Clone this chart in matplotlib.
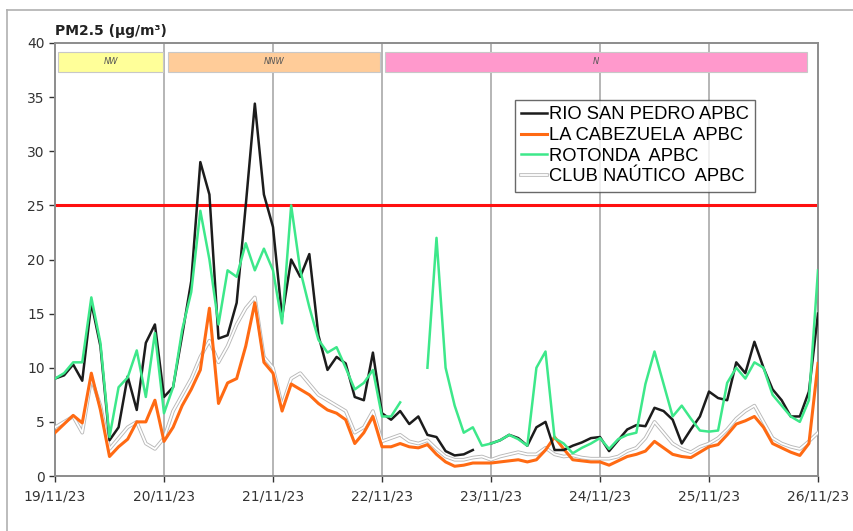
import numpy as np
import matplotlib
matplotlib.use("Agg")
import matplotlib.pyplot as plt
import matplotlib.patheffects as pe
from matplotlib.patches import Rectangle
from matplotlib.lines import Line2D

# ---------------- data (2-hourly, 19/11/23 00h .. 26/11/23 00h) ----------------
hours = np.arange(0, 169, 2)

rio_san_pedro = [
    9.0, 9.3, 10.3, 8.8, 16.0, 12.0, 3.3, 4.5, 9.2, 6.1, 12.3, 14.0,
    7.3, 8.2, 13.0, 18.0, 29.0, 26.0, 12.7, 13.0, 16.0, 25.0, 34.4, 26.0,
    23.0, 14.7, 20.0, 18.4, 20.5, 13.0, 9.8, 11.0, 10.4, 7.3, 7.0, 11.4,
    5.8, 5.2, 6.0, 4.8, 5.5, 3.8, 3.6, 2.3, 1.9, 2.0, 2.4, np.nan,
    3.0, 3.3, 3.8, 3.5, 2.8, 4.5, 5.0, 2.4, 2.4, 2.8, 3.1, 3.5,
    3.6, 2.3, 3.3, 4.3, 4.7, 4.6, 6.3, 6.0, 5.2, 3.0, 4.3, 5.5,
    7.8, 7.2, 7.0, 10.5, 9.5, 12.4, 10.0, 8.0, 7.0, 5.5, 5.5, 7.8,
    15.0]

la_cabezuela = [
    4.0, 4.8, 5.6, 4.9, 9.5, 6.1, 1.8, 2.7, 3.4, 5.0, 5.0, 7.0,
    3.2, 4.5, 6.5, 8.0, 9.8, 15.5, 6.7, 8.6, 9.0, 12.0, 16.0, 10.5,
    9.5, 6.0, 8.5, 8.0, 7.5, 6.7, 6.1, 5.8, 5.2, 3.0, 4.0, 5.5,
    2.7, 2.7, 3.0, 2.7, 2.6, 2.9, 2.0, 1.3, 0.9, 1.0, 1.2, 1.2,
    1.2, 1.3, 1.4, 1.5, 1.3, 1.5, 2.4, 3.6, 2.5, 1.5, 1.4, 1.3,
    1.3, 1.0, 1.4, 1.8, 2.0, 2.3, 3.2, 2.6, 2.0, 1.8, 1.7, 2.2,
    2.7, 2.9, 3.8, 4.8, 5.1, 5.5, 4.5, 3.0, 2.6, 2.2, 1.9, 3.0,
    10.4]

rotonda = [
    9.0, 9.5, 10.5, 10.5, 16.5, 12.3, 3.6, 8.2, 9.1, 11.6, 7.3, 13.2,
    5.8, 8.2, 13.5, 17.0, 24.5, 20.0, 14.0, 19.0, 18.4, 21.5, 19.0, 21.0,
    19.0, 14.1, 25.0, 19.0, 15.6, 12.6, 11.4, 11.9, 10.0, 8.0, 8.6, 9.8,
    5.5, 5.5, 6.8, np.nan, np.nan, 10.0, 22.0, 10.0, 6.5, 4.0, 4.5, 2.8,
    3.0, 3.3, 3.8, 3.4, 2.8, 10.0, 11.5, 3.5, 3.0, 2.1, 2.6, 3.0,
    3.5, 2.5, 3.4, 3.8, 4.0, 8.5, 11.5, 8.5, 5.5, 6.5, 5.3, 4.2,
    4.1, 4.2, 8.6, 10.0, 9.0, 10.5, 10.0, 7.5, 6.5, 5.5, 5.0, 7.0,
    19.0]

club_nautico = [
    4.5, 5.0, 5.5, 4.0, 9.0, 6.5, 2.5, 3.5, 4.5, 5.0, 3.0, 2.5,
    3.5, 6.0, 7.5, 9.0, 11.0, 12.5, 10.5, 12.0, 14.0, 15.5, 16.5, 11.0,
    10.0, 6.5, 9.0, 9.5, 8.5, 7.5, 7.0, 6.5, 6.0, 4.0, 4.5, 6.0,
    3.2, 3.5, 3.8, 3.2, 3.0, 3.3, 2.5, 1.8, 1.5, 1.5, 1.7, 1.8,
    1.5, 1.8, 2.0, 2.2, 2.0, 2.0, 2.6, 2.0, 1.8, 1.9, 1.7, 1.6,
    1.6, 1.6, 1.8, 2.3, 2.6, 3.5, 5.0, 4.0, 3.0, 2.5, 2.2, 2.7,
    3.0, 3.5, 4.3, 5.3, 6.0, 6.5, 5.0, 3.5, 3.0, 2.7, 2.5, 3.2,
    4.0]

day_labels = ["19/11/23", "20/11/23", "21/11/23", "22/11/23",
              "23/11/23", "24/11/23", "25/11/23", "26/11/23"]
limit_value = 25

# wind-direction bands (start/end in days)
band_labels = ["NW", "NNW", "N"]
band_start = [0.03, 1.04, 3.03]
band_end = [0.99, 2.98, 6.90]
band_colors = ["#ffff99", "#ffcc99", "#ff99cc"]

# ---------------- plot ----------------
W, H = 854, 531
fig = plt.figure(figsize=(W / 100, H / 100), dpi=100)
ax = fig.add_axes([55 / W, 1 - 476 / H, (818 - 55) / W, (476 - 43) / H])

t = hours / 24.0

grid_c = "#b0b0b0"
for d in range(1, 7):
    ax.axvline(d, color=grid_c, lw=1.3, zorder=1)

ax.axhline(limit_value, color="#ff1010", lw=2.2, zorder=2)

club_line, = ax.plot(t, club_nautico, color="white", lw=1.3, zorder=3,
                     path_effects=[pe.Stroke(linewidth=2.6, foreground="#b8b8b8"), pe.Normal()])
cab_line, = ax.plot(t, la_cabezuela, color="#ff6a13", lw=2.2, zorder=4)
rio_line, = ax.plot(t, rio_san_pedro, color="#1c1c1c", lw=1.8, zorder=5)
rot_line, = ax.plot(t, rotonda, color="#3de88a", lw=1.8, zorder=6)

for lab, s, e, c in zip(band_labels, band_start, band_end, band_colors):
    ax.add_patch(Rectangle((s, 37.35), e - s, 1.8, facecolor=c,
                           edgecolor="#c8c8c8", lw=0.8, zorder=7))
    ax.text((s + e) / 2, 38.25, lab, ha="center", va="center",
            fontsize=6, style="italic", color="#555555", zorder=8)

ax.set_xlim(0, 7)
ax.set_ylim(0, 40)
ax.set_xticks(range(8))
ax.set_xticklabels(day_labels)
ax.set_yticks(range(0, 41, 5))
ax.tick_params(axis="both", labelsize=10, colors="#333333", length=4,
               width=1, direction="out")
ax.tick_params(axis="x", pad=6)
for sp in ax.spines.values():
    sp.set_color("#8c8c8c")
    sp.set_linewidth(1.4)

ax.text(0.0, 1.012, "PM2.5 (µg/m³)", transform=ax.transAxes, fontsize=10,
        fontweight="bold", color="#222222", ha="left", va="bottom")

club_handle = Line2D([], [], color="white", lw=1.3,
                     path_effects=[pe.Stroke(linewidth=2.6, foreground="#b8b8b8"), pe.Normal()])
leg = ax.legend([rio_line, cab_line, rot_line, club_handle],
                ["RIO SAN PEDRO APBC", "LA CABEZUELA  APBC", "ROTONDA  APBC",
                 "CLUB NAÚTICO  APBC"],
                loc="upper left", bbox_to_anchor=((515 - 55) / 763, (476 - 100) / 433),
                frameon=True, fancybox=False, edgecolor="#444444",
                prop={"family": "Liberation Sans", "size": 13.2},
                handlelength=1.4, handletextpad=0.1, labelspacing=0.2,
                borderpad=0.35, borderaxespad=0)
leg.get_frame().set_linewidth(1.0)
leg.set_zorder(9)

# outer chart border (left and top)
fig.add_artist(Line2D([7 / W, 7 / W], [0, 1 - 10 / H], color="#b0b0b0", lw=1.2))
fig.add_artist(Line2D([7 / W, 1], [1 - 10 / H, 1 - 10 / H], color="#b0b0b0", lw=1.2))

fig.savefig("out.png", dpi=100)
